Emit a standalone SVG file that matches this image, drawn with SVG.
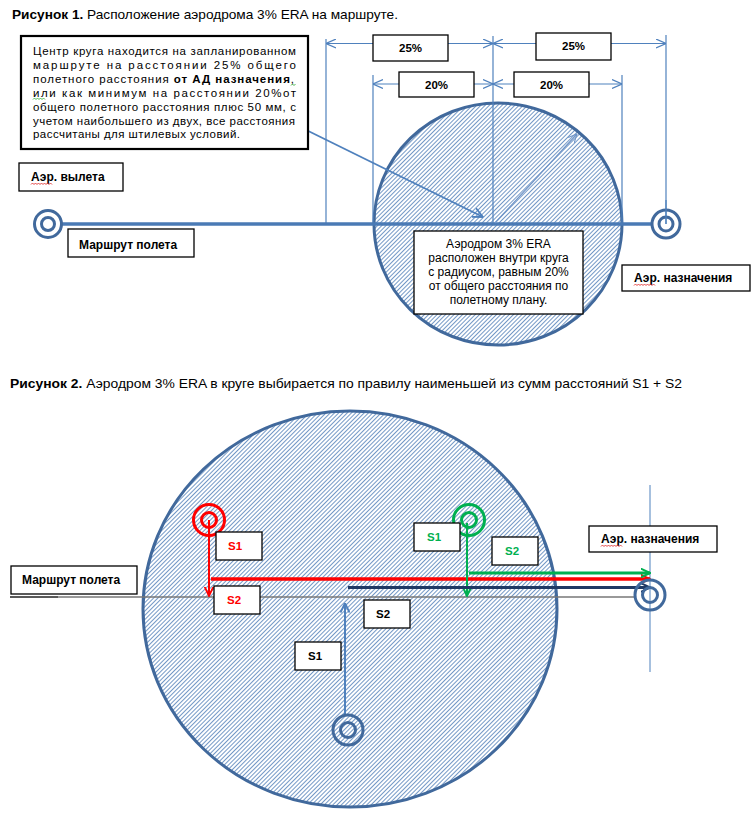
<svg xmlns="http://www.w3.org/2000/svg" width="752" height="815" viewBox="0 0 752 815">
<style>
text{font-family:"Liberation Sans",Arial,sans-serif;fill:#000}
.t{font-size:13px}
.b{font-weight:bold}
.tb{font-size:12px}
.nb{font-size:11.5px}
.lb{font-size:12px;font-weight:bold}
.sl{font-size:11.5px;font-weight:bold}
.box{fill:#fff;stroke:#000;stroke-width:1.3}
.dim{stroke:#4F81BD;stroke-width:1.2;fill:none}
.ring{fill:none;stroke:#41699C;stroke-width:3}
.sq{fill:none;stroke-width:0.9}
</style>
<defs>
<pattern id="hatch" width="3" height="3" patternUnits="userSpaceOnUse" patternTransform="rotate(45)">
<rect width="3" height="3" fill="#ffffff"/>
<line x1="0.5" y1="0" x2="0.5" y2="3" stroke="#4F7DB8" stroke-width="0.8"/>
</pattern>
<marker id="aB" viewBox="0 0 10 10" refX="10" refY="5" markerWidth="10" markerHeight="10" markerUnits="userSpaceOnUse" orient="auto-start-reverse"><path d="M0,0.5 L10,5 L0,9.5" fill="none" stroke="#4F81BD" stroke-width="1.2"/></marker>
<marker id="aB2" viewBox="0 0 10 10" refX="9.5" refY="5" markerWidth="11" markerHeight="11" markerUnits="userSpaceOnUse" orient="auto"><path d="M0,0.5 L9.5,5 L0,9.5" fill="none" stroke="#4F81BD" stroke-width="1.6"/></marker>
<marker id="aL" viewBox="0 0 10 10" refX="9.5" refY="5" markerWidth="9" markerHeight="9" markerUnits="userSpaceOnUse" orient="auto"><path d="M0,0.5 L9.5,5 L0,9.5" fill="none" stroke="#6F95C8" stroke-width="1.2"/></marker>
<marker id="aR" viewBox="0 0 10 10" refX="9.5" refY="5" markerWidth="10" markerHeight="10" markerUnits="userSpaceOnUse" orient="auto"><path d="M0,0.5 L9.5,5 L0,9.5" fill="none" stroke="#FF0000" stroke-width="1.8"/></marker>
<marker id="aG" viewBox="0 0 10 10" refX="9.5" refY="5" markerWidth="10" markerHeight="10" markerUnits="userSpaceOnUse" orient="auto"><path d="M0,0.5 L9.5,5 L0,9.5" fill="none" stroke="#00B050" stroke-width="2"/></marker>
<marker id="aN" viewBox="0 0 10 10" refX="9.5" refY="5" markerWidth="10" markerHeight="10" markerUnits="userSpaceOnUse" orient="auto"><path d="M0,0.5 L9.5,5 L0,9.5" fill="none" stroke="#1F3864" stroke-width="2"/></marker>
<marker id="aU" viewBox="0 0 10 10" refX="9.5" refY="5" markerWidth="10" markerHeight="10" markerUnits="userSpaceOnUse" orient="auto"><path d="M0,0.5 L9.5,5 L0,9.5" fill="none" stroke="#4F81BD" stroke-width="1.8"/></marker>
</defs>
<rect width="752" height="815" fill="#fff"/>

<!-- ===== Figure 1 ===== -->
<g id="title1"><text class="t" x="12" y="19" textLength="386" lengthAdjust="spacingAndGlyphs"><tspan class="b">Рисунок 1.</tspan> Расположение аэродрома 3% ERA на маршруте.</text></g>

<g id="era-circle-1">
<ellipse cx="498" cy="224" rx="124" ry="121" fill="url(#hatch)" stroke="#41699C" stroke-width="3"/>
</g>

<g id="connectors-1">
<line class="dim" x1="326" y1="39" x2="326" y2="224"/>
<line class="dim" x1="373" y1="75" x2="373" y2="224"/>
<line class="dim" x1="493" y1="36" x2="493" y2="224"/>
<line class="dim" x1="622" y1="75" x2="622" y2="224"/>
<line class="dim" x1="666" y1="35" x2="666" y2="224"/>
<line class="dim" x1="326" y1="43.5" x2="493" y2="43.5" marker-start="url(#aB)" marker-end="url(#aB)"/>
<line class="dim" x1="493" y1="43.5" x2="666" y2="43.5" marker-start="url(#aB)" marker-end="url(#aB)"/>
<line class="dim" x1="373" y1="84" x2="493" y2="84" marker-start="url(#aB)" marker-end="url(#aB)"/>
<line class="dim" x1="493" y1="84" x2="622" y2="84" marker-start="url(#aB)" marker-end="url(#aB)"/>
<line x1="60" y1="224" x2="652" y2="224" stroke="#4A7AB5" stroke-width="3.5"/>
<line x1="290" y1="122" x2="483" y2="217" stroke="#4F81BD" stroke-width="1.8" marker-end="url(#aB2)"/>
<line x1="495" y1="223" x2="577" y2="134" stroke="#6F95C8" stroke-width="1.2" marker-end="url(#aL)"/>
</g>

<g id="dim-labels-1">
<rect class="box" x="373" y="35" width="75" height="26"/><text class="sl" x="410.5" y="52" text-anchor="middle">25%</text>
<rect class="box" x="536" y="33" width="75" height="27"/><text class="sl" x="573.5" y="50" text-anchor="middle">25%</text>
<rect class="box" x="399" y="72" width="75" height="25"/><text class="sl" x="436.5" y="89" text-anchor="middle">20%</text>
<rect class="box" x="514" y="72" width="75" height="25"/><text class="sl" x="551.5" y="89" text-anchor="middle">20%</text>
</g>

<g id="note-box">
<rect x="21" y="36" width="287" height="113" fill="#fff" stroke="#000" stroke-width="2.2"/>
<text class="nb" x="33" y="55" textLength="263" lengthAdjust="spacing">Центр круга находится на запланированном</text>
<text class="nb" x="33" y="68.9" textLength="263" lengthAdjust="spacing">маршруте на расстоянии 25% общего</text>
<text class="nb" x="33" y="82.8" textLength="261" lengthAdjust="spacing">полетного расстояния <tspan class="b">от АД назначения</tspan>,</text>
<text class="nb" x="33" y="96.7" textLength="263" lengthAdjust="spacing">или как минимум на расстоянии 20%от</text>
<text class="nb" x="33" y="110.6" textLength="263" lengthAdjust="spacing">общего полетного расстояния плюс 50 мм, с</text>
<text class="nb" x="33" y="124.5" textLength="262" lengthAdjust="spacing">учетом наибольшего из двух, все расстояния</text>
<text class="nb" x="33" y="138.4" textLength="207" lengthAdjust="spacing">рассчитаны для штилевых условий.</text>
<path class="sq" stroke="#3CB043" d="M33,99.5 l1.5,-1.5 l1.5,1.5 l1.5,-1.5 l1.5,1.5 l1.5,-1.5 l1.5,1.5 l1.5,-1.5 l1.5,1.5"/>
<path class="sq" stroke="#3CB043" d="M291,85.5 l1.5,-1.5 l1.5,1.5 l1.5,-1.5"/>
</g>

<g id="dep-aerodrome">
<circle class="ring" cx="48" cy="224" r="13.5" stroke-width="3.5"/>
<circle class="ring" cx="48" cy="224" r="6.5" stroke-width="3"/>
</g>
<g id="dest-aerodrome-1">
<circle class="ring" cx="666" cy="224" r="14" stroke-width="3.5"/>
<circle class="ring" cx="666" cy="224" r="7" stroke-width="3"/>
<line x1="666" y1="200" x2="666" y2="224" stroke="#4F81BD" stroke-width="1.2"/>
</g>

<g id="label-departure">
<rect class="box" x="19" y="163" width="104" height="28"/>
<text class="lb" x="31" y="181">Аэр. вылета</text>
<path class="sq" stroke="#E03030" d="M31,184.5 l1.5,-1.5 l1.5,1.5 l1.5,-1.5 l1.5,1.5 l1.5,-1.5 l1.5,1.5 l1.5,-1.5 l1.5,1.5 l1.5,-1.5 l1.5,1.5 l1.5,-1.5 l1.5,1.5 l1.5,-1.5 l1.5,1.5"/>
</g>
<g id="label-route-1">
<rect class="box" x="68" y="229" width="126" height="28"/>
<text class="lb" x="79" y="249">Маршрут полета</text>
</g>
<g id="label-dest-1">
<rect class="box" x="622" y="265" width="128" height="26"/>
<text class="lb" x="634" y="282">Аэр. назначения</text>
<path class="sq" stroke="#E03030" d="M634,285.5 l1.5,-1.5 l1.5,1.5 l1.5,-1.5 l1.5,1.5 l1.5,-1.5 l1.5,1.5 l1.5,-1.5 l1.5,1.5 l1.5,-1.5 l1.5,1.5 l1.5,-1.5 l1.5,1.5 l1.5,-1.5 l1.5,1.5"/>
</g>
<g id="era-note">
<rect class="box" x="414" y="231" width="169" height="83"/>
<text class="tb" x="498.5" y="248" text-anchor="middle">Аэродром 3% ERA</text>
<text class="tb" x="498.5" y="262" text-anchor="middle">расположен внутри круга</text>
<text class="tb" x="498.5" y="276" text-anchor="middle">с радиусом, равным 20%</text>
<text class="tb" x="498.5" y="290" text-anchor="middle">от общего расстояния по</text>
<text class="tb" x="498.5" y="304" text-anchor="middle">полетному плану.</text>
</g>

<!-- ===== Figure 2 ===== -->
<g id="title2"><text class="t" x="10" y="388" textLength="672" lengthAdjust="spacingAndGlyphs"><tspan class="b">Рисунок 2.</tspan>  Аэродром 3% ERA в круге выбирается по правилу наименьшей из сумм расстояний S1 + S2</text></g>

<g id="era-circle-2">
<ellipse cx="350" cy="609" rx="207" ry="198" fill="url(#hatch)" stroke="#41699C" stroke-width="3"/>
</g>

<g id="connectors-2">
<line x1="10" y1="597" x2="58" y2="597" stroke="#222" stroke-width="1.3"/>
<line x1="58" y1="597" x2="636" y2="597" stroke="#777" stroke-width="1.3"/>
<line x1="650" y1="485" x2="650" y2="672" stroke="#4F81BD" stroke-width="1"/>
<line x1="209" y1="520" x2="209" y2="596" stroke="#FF0000" stroke-width="2" marker-end="url(#aR)"/>
<line x1="211" y1="579" x2="650" y2="579" stroke="#FF0000" stroke-width="3.5" marker-end="url(#aR)"/>
<line x1="467" y1="523" x2="467" y2="596" stroke="#00B050" stroke-width="2" marker-end="url(#aG)"/>
<line x1="469" y1="573" x2="650" y2="573" stroke="#00B050" stroke-width="3" marker-end="url(#aG)"/>
<line x1="348" y1="587.5" x2="650" y2="587.5" stroke="#1F3864" stroke-width="3" marker-end="url(#aN)"/>
<line x1="345" y1="714" x2="345" y2="603" stroke="#4F81BD" stroke-width="2" marker-end="url(#aU)"/>
</g>

<g id="red-aerodrome">
<circle cx="209" cy="520" r="15.5" fill="none" stroke="#FF0000" stroke-width="3"/>
<circle cx="209" cy="520" r="7.5" fill="none" stroke="#FF0000" stroke-width="3"/>
</g>
<g id="green-aerodrome">
<circle cx="469" cy="520" r="15.5" fill="none" stroke="#00B050" stroke-width="3"/>
<circle cx="469" cy="520" r="7.5" fill="none" stroke="#00B050" stroke-width="3"/>
</g>
<g id="blue-aerodrome">
<circle class="ring" cx="348" cy="730" r="15"/>
<circle class="ring" cx="348" cy="730" r="7.5"/>
</g>
<g id="dest-aerodrome-2">
<circle class="ring" cx="650" cy="595" r="15"/>
<circle class="ring" cx="650" cy="595" r="7.5"/>
</g>

<g id="label-red-s1"><rect class="box" x="216" y="532" width="46" height="28"/><text class="sl" x="228" y="550" style="fill:#FF0000">S1</text></g>
<g id="label-red-s2"><rect class="box" x="214" y="586" width="46" height="28"/><text class="sl" x="227" y="604" style="fill:#FF0000">S2</text></g>
<g id="label-green-s1"><rect class="box" x="414" y="523" width="46" height="28"/><text class="sl" x="427" y="541" style="fill:#00B050">S1</text></g>
<g id="label-green-s2"><rect class="box" x="492" y="537" width="46" height="28"/><text class="sl" x="505" y="555" style="fill:#00B050">S2</text></g>
<g id="label-blue-s2"><rect class="box" x="364" y="600" width="46" height="28"/><text class="sl" x="376" y="618">S2</text></g>
<g id="label-blue-s1"><rect class="box" x="295" y="642" width="46" height="28"/><text class="sl" x="308" y="660">S1</text></g>

<g id="label-route-2">
<rect class="box" x="11" y="566" width="126" height="28"/>
<text class="lb" x="22" y="584">Маршрут полета</text>
</g>
<g id="label-dest-2">
<rect class="box" x="589" y="526" width="128" height="26"/>
<text class="lb" x="601" y="543">Аэр. назначения</text>
<path class="sq" stroke="#E03030" d="M601,546.5 l1.5,-1.5 l1.5,1.5 l1.5,-1.5 l1.5,1.5 l1.5,-1.5 l1.5,1.5 l1.5,-1.5 l1.5,1.5 l1.5,-1.5 l1.5,1.5 l1.5,-1.5 l1.5,1.5 l1.5,-1.5 l1.5,1.5"/>
</g>
</svg>
